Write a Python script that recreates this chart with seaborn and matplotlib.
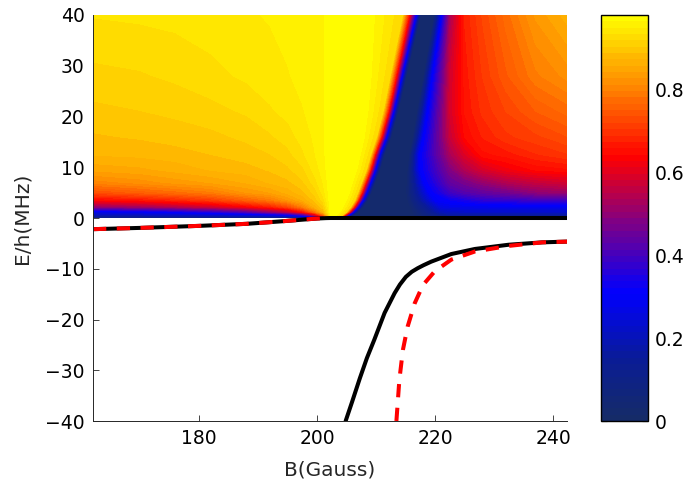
import numpy as np
import matplotlib
matplotlib.use("Agg")
import matplotlib.pyplot as plt
from matplotlib.colors import LinearSegmentedColormap
import seaborn as sns

# ---- scattering map above threshold -------------------------------------
# energy rows of the map (MHz)
E_rows = [0, 0.5, 1.2, 2.2, 3.5, 5, 7, 9.5, 12.5, 16, 21, 28, 40]

# fixed field columns on the low-field side (Gauss)
B_left = [162, 170, 176, 182, 188, 192, 195, 197.5, 199.5, 201, 202.3]
# field columns that follow the ridge / edges, one entry per energy row:
# bright-yellow core edge, yellow edge, red edge, blue edge,
# start and end of the dark zero band, blue edge on the high-field side
B_core = [202.5, 203.0, 203.6, 204.1, 204.6, 205.1, 205.6, 206.3, 206.9, 207.5, 208.0, 208.4, 208.6]
B_yellow = [202.9, 204.1, 204.9, 205.6, 206.3, 206.8, 207.45, 208.25, 209.0, 210.0, 211.1, 212.3, 214.4]
B_red = [203.3, 204.6, 205.5, 206.3, 207.0, 207.6, 208.25, 209.05, 209.8, 210.9, 212.1, 213.4, 215.6]
B_blue = [203.8, 205.2, 206.1, 206.9, 207.7, 208.3, 209.0, 209.8, 210.55, 211.7, 212.9, 214.3, 216.7]
B_zero_start = [204.6, 206.0, 206.9, 207.7, 208.5, 209.1, 209.8, 210.6, 211.35, 212.5, 213.7, 215.1, 217.5]
B_zero_end = [216.0, 216.0, 216.0, 215.5, 215.2, 215.0, 215.1, 215.3, 215.6, 216.2, 216.9, 218.0, 219.8]
B_blue_right = [221.0, 221.0, 221.0, 221.0, 220.0, 219.0, 218.1, 217.4, 217.35, 218.0, 218.7, 219.5, 221.1]
# fixed field columns on the high-field side (Gauss)
B_right = [222.5, 225, 228, 232, 237, 242.3]

# map values, one row per energy, columns in the order
# B_left | core, yellow, red, blue, zero start, zero end, blue right | B_right
V_rows = [
    [0.10, 0.10, 0.10, 0.10, 0.10, 0.10, 0.10, 0.11, 0.14, 0.20, 0.978,
     0.970, 0.90, 0.64, 0.30, 0.00, 0.00, 0.06,
     0.08, 0.08, 0.08, 0.08, 0.08, 0.08],
    [0.18, 0.185, 0.191, 0.20, 0.215, 0.233, 0.259, 0.342, 0.532, 0.73, 0.978,
     0.975, 0.92, 0.64, 0.30, 0.02, 0.02, 0.13,
     0.15, 0.15, 0.15, 0.15, 0.15, 0.15],
    [0.27, 0.291, 0.319, 0.357, 0.419, 0.495, 0.551, 0.648, 0.774, 0.872, 0.978,
     0.975, 0.92, 0.64, 0.30, 0.02, 0.02, 0.20,
     0.21, 0.22, 0.22, 0.22, 0.22, 0.22],
    [0.50, 0.518, 0.542, 0.575, 0.628, 0.67, 0.723, 0.793, 0.862, 0.9015, 0.978,
     0.975, 0.92, 0.64, 0.30, 0.02, 0.02, 0.26,
     0.27, 0.275, 0.28, 0.28, 0.28, 0.285],
    [0.64, 0.656, 0.677, 0.706, 0.753, 0.784, 0.824, 0.857, 0.891, 0.926, 0.978,
     0.975, 0.92, 0.64, 0.30, 0.02, 0.02, 0.30,
     0.32, 0.34, 0.365, 0.375, 0.385, 0.39],
    [0.73, 0.753, 0.771, 0.79, 0.826, 0.841, 0.863, 0.883, 0.908, 0.941, 0.978,
     0.975, 0.92, 0.64, 0.30, 0.02, 0.02, 0.30,
     0.39, 0.42, 0.44, 0.46, 0.495, 0.51],
    [0.802, 0.817, 0.832, 0.843, 0.859, 0.875, 0.884, 0.90, 0.926, 0.950, 0.978,
     0.975, 0.92, 0.64, 0.30, 0.02, 0.02, 0.30,
     0.44, 0.47, 0.505, 0.54, 0.565, 0.58],
    [0.846, 0.853, 0.863, 0.874, 0.881, 0.89, 0.90, 0.915, 0.9395, 0.957, 0.978,
     0.975, 0.92, 0.64, 0.30, 0.02, 0.02, 0.30,
     0.48, 0.54, 0.585, 0.62, 0.645, 0.654],
    [0.874, 0.877, 0.881, 0.888, 0.896, 0.903, 0.913, 0.931, 0.948, 0.961, 0.978,
     0.975, 0.92, 0.64, 0.30, 0.02, 0.02, 0.30,
     0.53, 0.595, 0.653, 0.665, 0.687, 0.702],
    [0.886, 0.89, 0.895, 0.899, 0.907, 0.916, 0.927, 0.94, 0.952, 0.962, 0.978,
     0.975, 0.92, 0.64, 0.30, 0.02, 0.02, 0.30,
     0.57, 0.645, 0.675, 0.70, 0.715, 0.734],
    [0.899, 0.903, 0.907, 0.913, 0.921, 0.932, 0.939, 0.948, 0.957, 0.962, 0.978,
     0.975, 0.92, 0.64, 0.30, 0.02, 0.02, 0.30,
     0.585, 0.66, 0.693, 0.72, 0.75, 0.771],
    [0.914, 0.917, 0.922, 0.929, 0.937, 0.942, 0.948, 0.955, 0.959, 0.962, 0.978,
     0.975, 0.92, 0.64, 0.30, 0.02, 0.02, 0.30,
     0.58, 0.665, 0.705, 0.747, 0.792, 0.817],
    [0.935, 0.937, 0.939, 0.943, 0.947, 0.951, 0.956, 0.959, 0.960, 0.962, 0.978,
     0.975, 0.92, 0.64, 0.30, 0.02, 0.02, 0.30,
     0.53, 0.676, 0.722, 0.773, 0.83, 0.865],
]

# ---- bound-state energies below threshold ---------------------------------
# upper branch, full calculation (continues along threshold E = 0)
B_upper = [162, 170, 180, 188, 194, 198, 200, 201.5, 202.2, 242.3]
E_upper = [-2.2, -1.95, -1.55, -1.15, -0.65, -0.28, -0.1, -0.02, 0.0, 0.0]
# upper branch, approximate model
B_upper_model = [162, 170, 180, 188, 194, 198, 200, 201.5, 202.2]
E_upper_model = [-2.2, -1.95, -1.55, -1.15, -0.65, -0.28, -0.1, -0.02, 0.0]
# lower branch, full calculation
B_lower = [204.8, 205.9, 207.2, 208.4, 209.65, 211.4, 213.1, 214.0, 215.0, 216.0,
           217.0, 218.0, 219.3, 222.7, 226.7, 232.4, 238.1, 242.3]
E_lower = [-40, -36.2, -31.6, -27.6, -24.0, -18.7, -14.8, -13.1, -11.6, -10.6,
           -9.9, -9.3, -8.6, -7.1, -6.1, -5.27, -4.8, -4.65]
# lower branch, approximate model
B_lower_model = [213.4, 213.9, 214.5, 215.3, 216.5, 217.9, 219.9, 222.7, 226.7,
                 232.4, 238.1, 242.3]
E_lower_model = [-40, -31.9, -26.0, -21.4, -16.8, -13.2, -10.5, -8.2, -6.6,
                 -5.5, -4.8, -4.65]

x_ticks = [180, 200, 220, 240]
y_ticks = [-40, -30, -20, -10, 0, 10, 20, 30, 40]
cbar_ticks = [0, 0.2, 0.4, 0.6, 0.8]
cbar_labels = ["0", "0.2", "0.4", "0.6", "0.8"]

# ---- style -----------------------------------------------------------------
sns.set_theme(style="white")
plt.rcParams["font.family"] = ["DejaVu Sans"]
plt.rcParams["axes.unicode_minus"] = True

cmap = LinearSegmentedColormap.from_list(
    "bluehot",
    [(0.00 / 0.98, (22 / 255, 44 / 255, 102 / 255)),
     (0.15 / 0.98, (10 / 255, 28 / 255, 150 / 255)),
     (0.31 / 0.98, (0.0, 0.0, 1.0)),
     (0.49 / 0.98, (135 / 255, 0.0, 125 / 255)),
     (0.64 / 0.98, (1.0, 0.0, 0.0)),
     (0.80 / 0.98, (1.0, 128 / 255, 0.0)),
     (1.00, (1.0, 1.0, 0.0))],
    N=256,
)

W, H = 689, 486
fig = plt.figure(figsize=(W / 100, H / 100), dpi=100)
ax = fig.add_axes([93 / W, 65 / H, 474 / W, 406 / H])
cax = fig.add_axes([601 / W, 65 / H, 47 / W, 406 / H])

# assemble the curvilinear node mesh
n_rows = len(E_rows)
B_mesh = np.array([
    B_left + [B_core[i], B_yellow[i], B_red[i], B_blue[i], B_zero_start[i],
              B_zero_end[i], B_blue_right[i]] + B_right
    for i in range(n_rows)
], dtype=float)
E_mesh = np.repeat(np.array(E_rows, dtype=float)[:, None], B_mesh.shape[1], axis=1)
V_mesh = np.array(V_rows, dtype=float)

levels = np.linspace(0, 0.98, 65)
cs = ax.contourf(B_mesh, E_mesh, V_mesh, levels=levels, cmap=cmap, antialiased=False)

lw = 2.9
dash = (0, (3.3, 2.6))
sns.lineplot(x=B_upper, y=E_upper, color="black", linewidth=lw, sort=False,
             estimator=None, ax=ax)
sns.lineplot(x=B_lower, y=E_lower, color="black", linewidth=lw, sort=False,
             estimator=None, ax=ax)
sns.lineplot(x=B_upper_model, y=E_upper_model, color="red", linewidth=lw,
             sort=False, estimator=None, ax=ax)
ax.lines[-1].set_linestyle(dash)
sns.lineplot(x=B_lower_model, y=E_lower_model, color="red", linewidth=lw,
             sort=False, estimator=None, ax=ax)
ax.lines[-1].set_linestyle(dash)

ax.set_xlim(162, 242.3)
ax.set_ylim(-40, 40)
ax.set_xticks(x_ticks)
ax.set_yticks(y_ticks)
ax.set_xlabel("B(Gauss)", fontsize=14.5, labelpad=9)
ax.set_ylabel("E/h(MHz)", fontsize=14.5, labelpad=10)
ax.tick_params(direction="in", length=4, width=0.6, labelsize=13.5,
               bottom=True, left=True, top=False, right=False,
               colors="#262626", labelcolor="black", pad=6)
for side in ("top", "right"):
    ax.spines[side].set_visible(False)
for side in ("left", "bottom"):
    ax.spines[side].set_color("#262626")
    ax.spines[side].set_linewidth(0.7)
ax.set_facecolor("white")

cb = fig.colorbar(cs, cax=cax)
cb.set_ticks(cbar_ticks)
cb.set_ticklabels(cbar_labels)
cb.outline.set_edgecolor("black")
cb.outline.set_linewidth(1.0)
cax.tick_params(direction="in", length=4, width=0.8, labelsize=13.5,
                left=True, right=True, colors="black", pad=5)

fig.savefig("out.png", dpi=100)
